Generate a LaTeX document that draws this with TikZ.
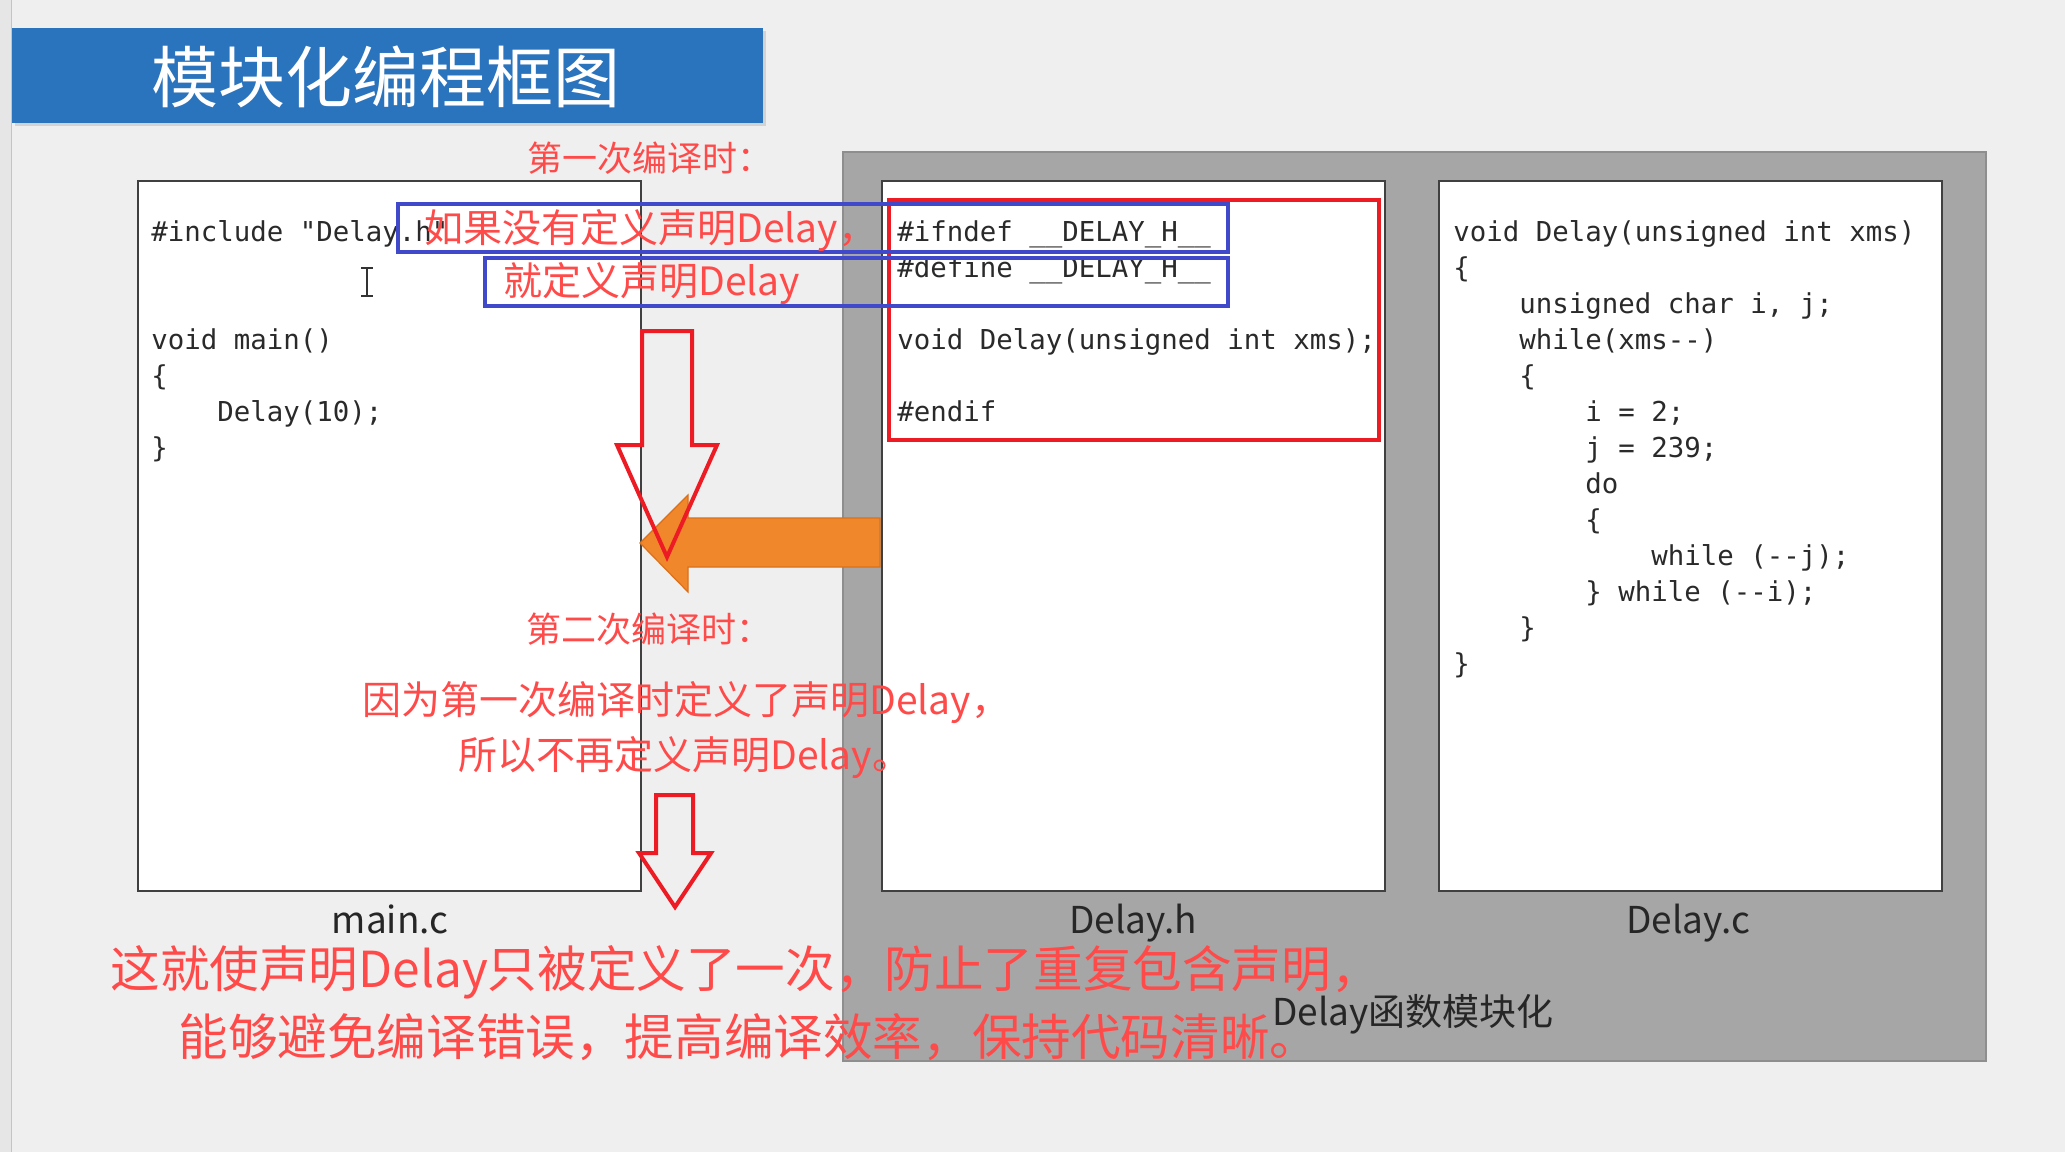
\documentclass[tikz,border=0pt]{standalone}
\usepackage{fontspec}
\setmainfont{Noto Sans CJK SC}
\newfontfamily\cjk{Noto Sans CJK SC}
\newfontfamily\codefont{DejaVu Sans Mono}
\usetikzlibrary{shadows}
\definecolor{bgc}{HTML}{EFEFEF}
\definecolor{stripc}{HTML}{E6E6E6}
\definecolor{stripline}{HTML}{C4C4C4}
\definecolor{titleblue}{HTML}{2A73BD}
\definecolor{boxgray}{HTML}{A6A6A6}
\definecolor{boxgrayline}{HTML}{8E8E8E}
\definecolor{codec}{HTML}{2A2A2A}
\definecolor{redtxt}{HTML}{FF4A4A}
\definecolor{redline}{HTML}{ED1C24}
\definecolor{blueline}{HTML}{4049C9}
\definecolor{orangec}{HTML}{F0872B}
\definecolor{orangeline}{HTML}{D9701E}
\tikzset{
  codeline/.style={font=\codefont\fontsize{13.7pt}{18pt}\selectfont, anchor=base west, inner sep=0pt, text=codec},
  filebox/.style={draw=black!75, line width=1pt, fill=white, minimum width=251.5pt, minimum height=355pt, inner sep=0pt, anchor=north west},
  redtext/.style={font=\cjk\fontsize{19.5pt}{24pt}\selectfont, text=redtxt, inner sep=0pt},
  redtextsmall/.style={font=\cjk\fontsize{17.5pt}{22pt}\selectfont, text=redtxt, inner sep=0pt},
  bigred/.style={font=\cjk\fontsize{24.8pt}{30pt}\selectfont, text=redtxt, inner sep=0pt, anchor=west},
  flabel/.style={font=\cjk\fontsize{18.5pt}{22pt}\selectfont, text=black!85, inner sep=0pt},
  bluebox/.style={draw=blueline, line width=2pt},
  redbox/.style={draw=redline, line width=2.4pt},
  hollowarrow/.style={draw=redline, line width=2pt, line join=miter},
}
\begin{document}
\begin{tikzpicture}[x=0.5pt, y=-0.5pt]
\useasboundingbox (0,0) rectangle (2065,1152);
\fill[bgc] (0,0) rectangle (2065,1152);
\fill[stripc] (0,0) rectangle (11,1152);
\draw[stripline, line width=0.8pt] (11.5,0) -- (11.5,1152);

% title bar
\node[fill=titleblue, minimum width=375.5pt, minimum height=47.5pt, inner sep=0pt, anchor=north west,
      drop shadow={shadow xshift=1.5pt, shadow yshift=-1.5pt, opacity=0.25}] (title) at (12,28) {};
\node[font=\cjk\fontsize{33.5pt}{36pt}\selectfont, text=white, inner sep=0pt] (titletext) at (386,77) {模块化编程框图};

% gray module area
\node[fill=boxgray, draw=boxgrayline, line width=1pt, minimum width=571.5pt, minimum height=454.5pt, inner sep=0pt, anchor=north west] (module) at (842,151) {};

% file boxes
\node[filebox] (mainbox) at (137,180) {};
\node[filebox] (hbox) at (881,180) {};
\node[filebox] (cbox) at (1438,180) {};

% main.c code
\node[codeline] (mc0) at (151,241) {\#include "Delay.h"};
\node[codeline] (mc3) at (151,349) {void main()};
\node[codeline] (mc4) at (151,385) {\{};
\node[codeline] (mc5) at (151,421) {\ \ \ \ Delay(10);};
\node[codeline] (mc6) at (151,457) {\}};

% I-beam cursor
\coordinate (curtop) at (367,268);
\coordinate (curbot) at (367,296);
\draw[black!80, line width=0.9pt] (curtop) -- (curbot);
\draw[black!80, line width=0.9pt] ([xshift=-3pt]curtop) -- ([xshift=3pt]curtop);
\draw[black!80, line width=0.9pt] ([xshift=-3pt]curbot) -- ([xshift=3pt]curbot);

% Delay.h code
\node[codeline] (dh0) at (897,241) {\#ifndef \_\_DELAY\_H\_\_};
\node[codeline] (dh1) at (897,277) {\#define \_\_DELAY\_H\_\_};
\node[codeline] (dh3) at (897,349) {void Delay(unsigned int xms);};
\node[codeline] (dh5) at (897,421) {\#endif};

% Delay.c code
\node[codeline] (dc0) at (1453,241) {void Delay(unsigned int xms)};
\node[codeline] (dc1) at (1453,277) {\{};
\node[codeline] (dc2) at (1453,313) {\ \ \ \ unsigned char i, j;};
\node[codeline] (dc3) at (1453,349) {\ \ \ \ while(xms-\kern0pt-)};
\node[codeline] (dc4) at (1453,385) {\ \ \ \ \{};
\node[codeline] (dc5) at (1453,421) {\ \ \ \ \ \ \ \ i = 2;};
\node[codeline] (dc6) at (1453,457) {\ \ \ \ \ \ \ \ j = 239;};
\node[codeline] (dc7) at (1453,493) {\ \ \ \ \ \ \ \ do};
\node[codeline] (dc8) at (1453,529) {\ \ \ \ \ \ \ \ \{};
\node[codeline] (dc9) at (1453,565) {\ \ \ \ \ \ \ \ \ \ \ \ while (-\kern0pt-j);};
\node[codeline] (dc10) at (1453,601) {\ \ \ \ \ \ \ \ \} while (-\kern0pt-i);};
\node[codeline] (dc11) at (1453,637) {\ \ \ \ \}};
\node[codeline] (dc12) at (1453,673) {\}};

% red frame around header contents
\draw[redbox] (889,200) rectangle (1379,440);
% blue highlight frames
\draw[bluebox] (398,204) rectangle (1228,252);
\draw[bluebox] (485,258) rectangle (1228,306);

% orange arrow (from Delay.h to main.c)
\fill[orangec, draw=orangeline, line width=0.6pt, line join=miter]
  (880,518) -- (688,518) -- (688,495) -- (640,543) -- (688,592) -- (688,567) -- (880,567) -- cycle;

% red hollow arrows
\draw[hollowarrow] (642,331) -- (692,331) -- (692,445) -- (717,445) -- (667,557) -- (617,445) -- (642,445) -- cycle;
\draw[hollowarrow] (656,795) -- (693,795) -- (693,853) -- (711,853) -- (675,907) -- (639,853) -- (656,853) -- cycle;

% red annotations
\node[redtextsmall] (first) at (650,158) {第一次编译时：};
\node[redtext, anchor=west] (ifnot) at (424,231) {如果没有定义声明Delay，};
\node[redtext, anchor=west] (thendef) at (503,284) {就定义声明Delay};
\node[redtextsmall] (second) at (649,629) {第二次编译时：};
\node[redtext, anchor=west] (because) at (362,703) {因为第一次编译时定义了声明Delay，};
\node[redtext, anchor=west] (sono) at (458,758) {所以不再定义声明Delay。};

% file labels
\node[flabel, anchor=base] (lmain) at (390,933) {main.c};
\node[flabel, anchor=base] (lh) at (1133,933) {Delay.h};
\node[flabel, anchor=base] (lc) at (1688,933) {Delay.c};
\node[flabel, anchor=base west] (lmod) at (1272,1025) {Delay函数模块化};

% conclusion
\node[bigred] (concl1) at (110,972) {这就使声明Delay只被定义了一次，防止了重复包含声明，};
\node[bigred] (concl2) at (178,1037) {能够避免编译错误，提高编译效率，保持代码清晰。};
\end{tikzpicture}
\end{document}
